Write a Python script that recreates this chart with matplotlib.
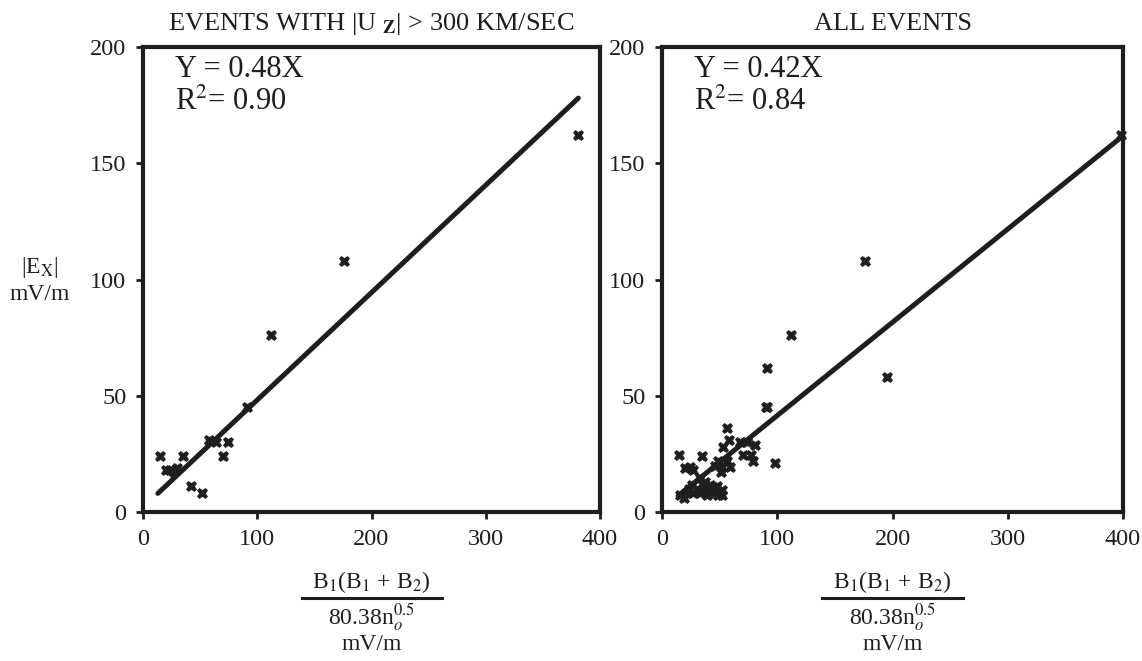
import matplotlib
matplotlib.use("Agg")
import matplotlib.pyplot as plt
from matplotlib.lines import Line2D

plt.rcParams['font.family'] = ['Liberation Serif', 'DejaVu Serif']
plt.rcParams['mathtext.fontset'] = 'stix'

# ---- data ----
left_x = [15, 35, 20, 24, 27, 30, 42, 52, 58, 64, 74, 70, 91, 112, 176, 381]
left_y = [24, 24, 18, 18, 17, 19, 11, 8, 31, 30, 30, 24, 45, 76, 108, 162]
left_fit_x = [13, 381]
left_fit_y = [8, 178]

right_x = [90, 112, 91, 91, 56, 58, 53, 68, 74, 81, 70, 77, 79, 98, 15, 35,
           20, 27, 24, 49, 56, 52, 59, 46, 51, 33, 37, 36, 42, 48, 52, 26,
           23, 30, 39, 45, 52, 49, 16, 19, 21, 27, 33, 39, 176, 195, 398]
right_y = [45, 76, 62, 45, 36, 31, 28, 30, 30, 29, 24.5, 24.5, 22, 21, 24.5, 24,
           19, 18, 19.5, 22, 22, 19.5, 19.5, 20, 17, 14.5, 13, 11.5, 11.6, 11, 9.5, 11.6,
           10, 10, 9.5, 8, 7.3, 7.3, 7.3, 6, 8, 8, 8, 7.3, 108, 58, 162]
right_fit_x = [14, 398]
right_fit_y = [7, 161]

x_ticks = [0, 100, 200, 300, 400]
y_ticks = [0, 50, 100, 150, 200]

titles = [r"EVENTS WITH |U $_{\mathbf{Z}}$| > 300 KM/SEC", "ALL EVENTS"]
eqs = ["Y = 0.48X", "Y = 0.42X"]
r2s = [r"R$^2$= 0.90", r"R$^2$= 0.84"]

W, H = 1142, 661
fig = plt.figure(figsize=(W / 100, H / 100), dpi=100)

def fx(px):
    return px / W

def fy(py):
    return 1 - py / H

ax_rects = [
    [fx(143), fy(512), (600 - 143) / W, (512 - 47) / H],
    [fx(662), fy(512), (1123 - 662) / W, (512 - 47) / H],
]
data = [(left_x, left_y, left_fit_x, left_fit_y),
        (right_x, right_y, right_fit_x, right_fit_y)]

ink = '#1e1e1e'
for i, rect in enumerate(ax_rects):
    ax = fig.add_axes(rect)
    xs, ys, fxs, fys = data[i]
    ax.plot(fxs, fys, color=ink, lw=3.6, solid_capstyle='round', zorder=2)
    ax.plot(xs, ys, linestyle='none', marker='X', ms=7.5, color=ink,
            markeredgecolor=ink, markeredgewidth=0.5, zorder=3, clip_on=False)
    ax.set_xlim(0, 400)
    ax.set_ylim(0, 200)
    ax.set_xticks(x_ticks)
    ax.set_yticks(y_ticks)
    ax.tick_params(direction='out', length=5, width=2, labelsize=17.5, pad=7,
                   colors=ink)
    for s in ax.spines.values():
        s.set_linewidth(3)
        s.set_color(ink)
    ax.set_title(titles[i], fontsize=19, pad=12, color=ink)
    ax.text(0.07, 0.9355, eqs[i], transform=ax.transAxes, fontsize=22,
            va='baseline', ha='left', color=ink)
    ax.text(0.07, 0.8645, r2s[i], transform=ax.transAxes, fontsize=22,
            va='baseline', ha='left', color=ink)

    # x label as a fraction
    cx = (rect[0] + rect[2] / 2)
    fig.text(cx, fy(582), r"B$_1$(B$_1$ + B$_2$)", ha='center', va='center',
             fontsize=17, color=ink)
    fig.add_artist(Line2D([cx - 70 / W, cx + 70 / W], [fy(598), fy(598)],
                          color=ink, lw=2.2))
    fig.text(cx, fy(618), r"80.38n$_o^{0.5}$", ha='center', va='center',
             fontsize=17, color=ink)
    fig.text(cx, fy(645), "mV/m", ha='center', va='center', fontsize=17,
             color=ink)

# y label
fig.text(fx(40), fy(268), r"|E$_\mathrm{X}$|", ha='center', va='center',
         fontsize=17, color=ink)
fig.text(fx(40), fy(295), "mV/m", ha='center', va='center', fontsize=17,
         color=ink)

fig.savefig("out.png", dpi=100)
